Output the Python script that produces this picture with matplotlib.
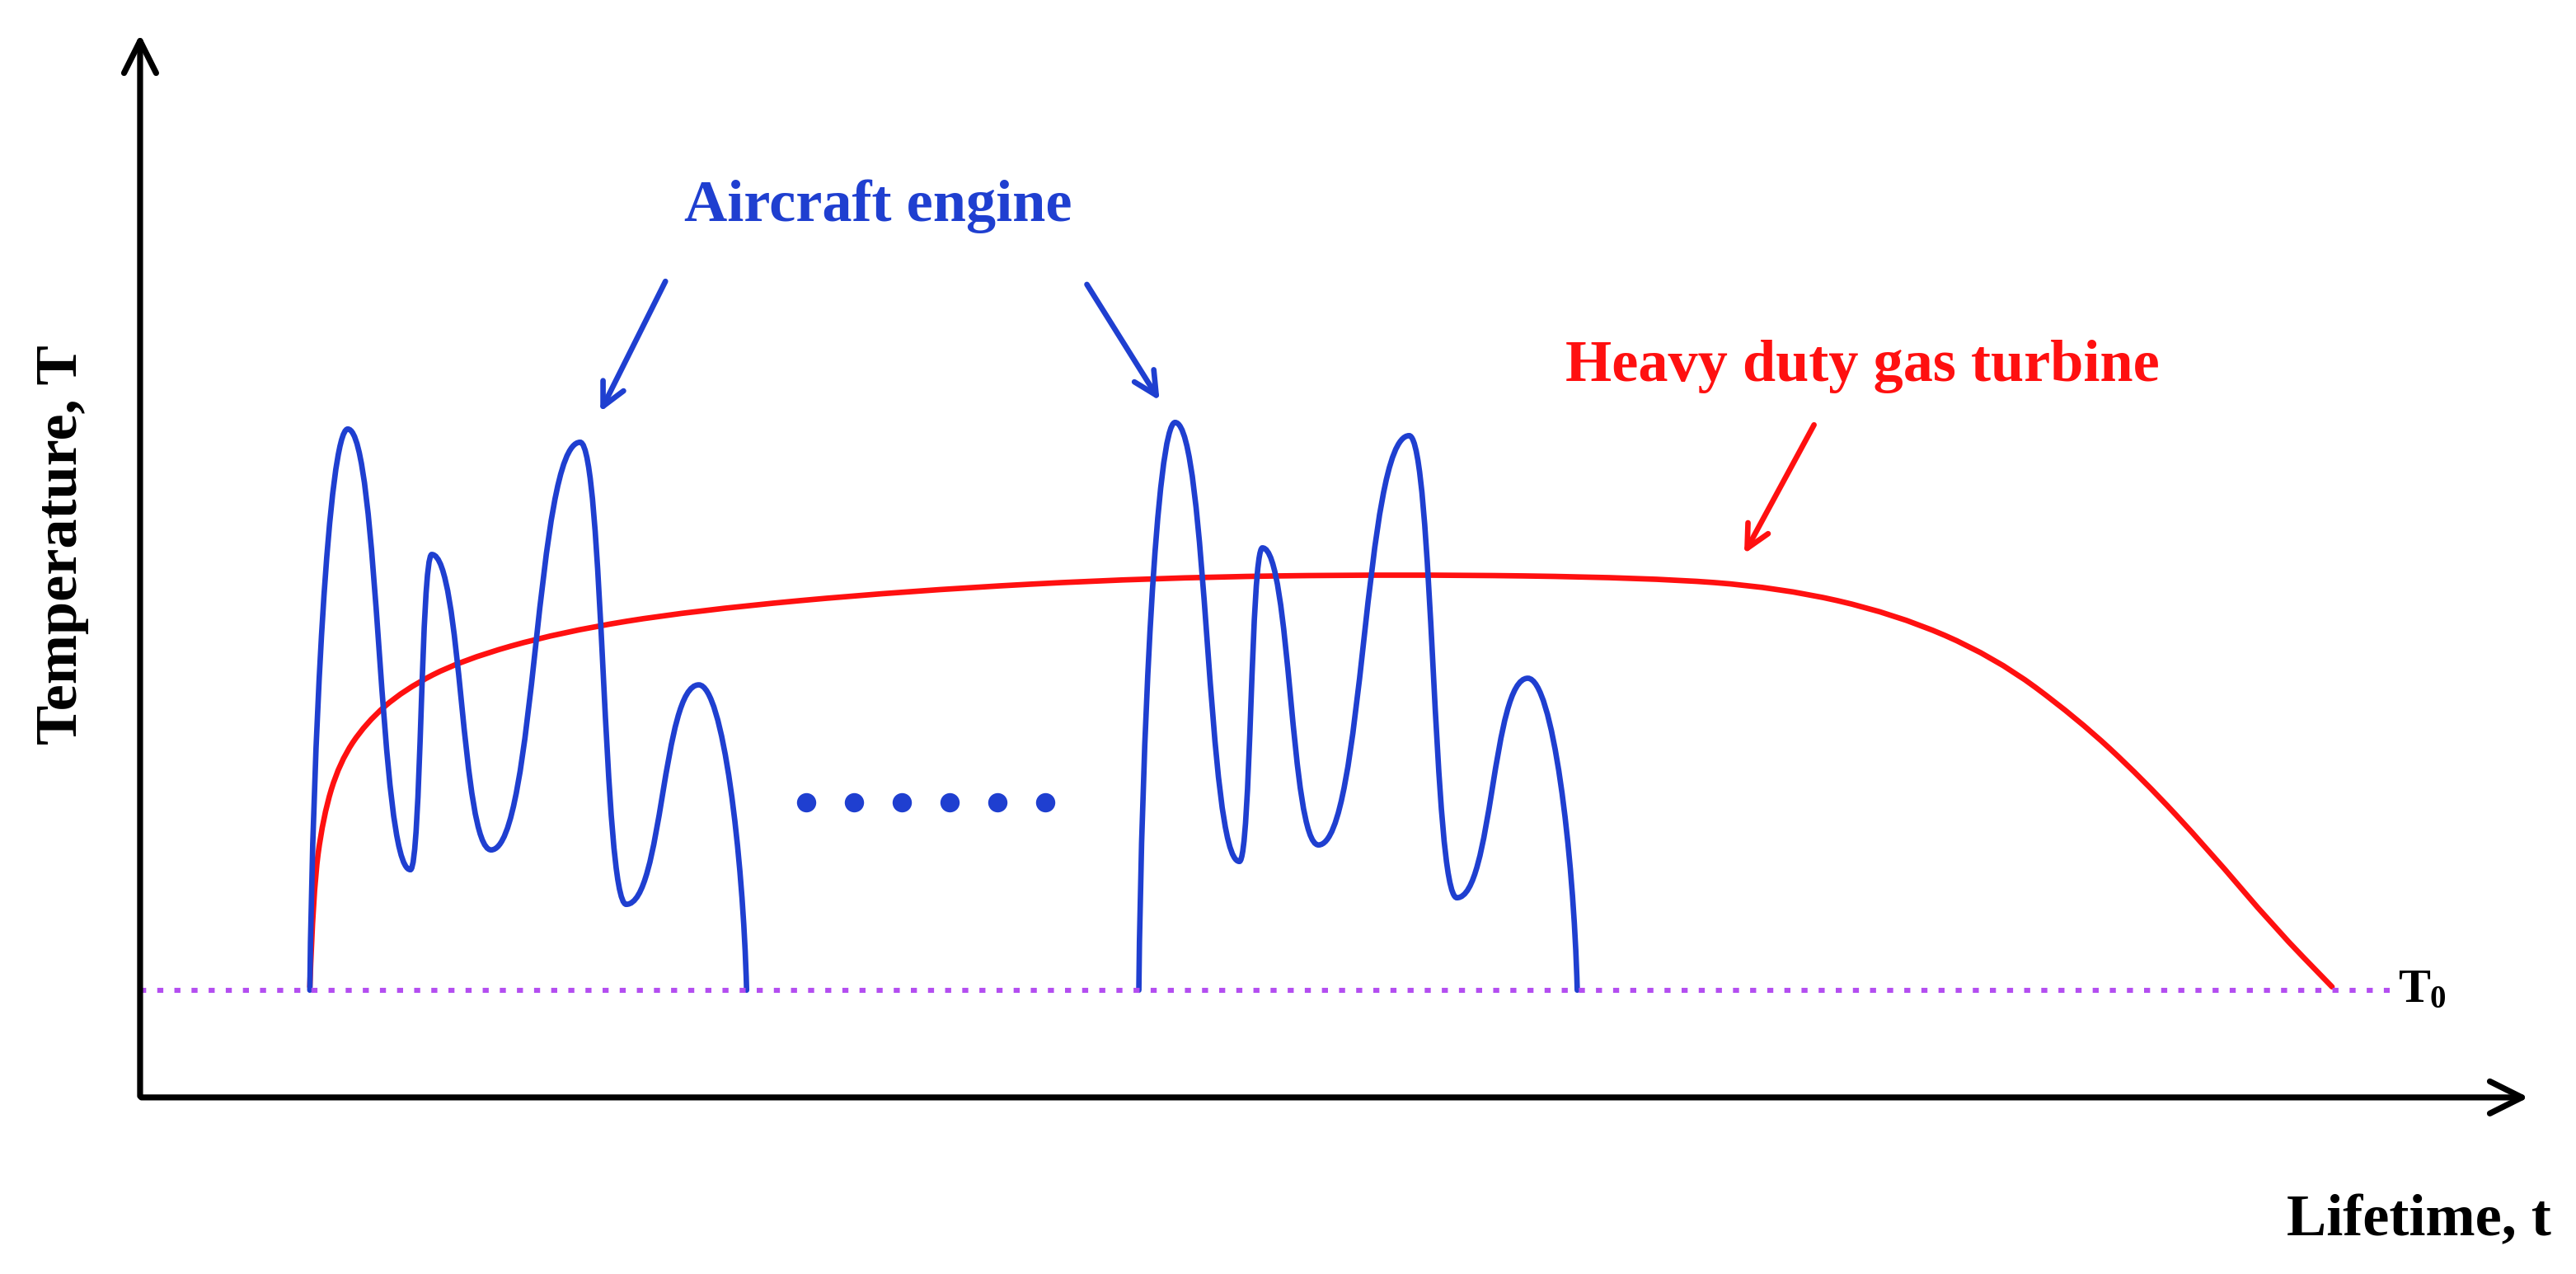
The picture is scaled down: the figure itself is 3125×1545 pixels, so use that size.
import matplotlib.pyplot as plt
from matplotlib.path import Path
from matplotlib.patches import PathPatch

plt.rcParams['font.family'] = ['Liberation Serif', 'DejaVu Serif']

# positions (image pixel units, y downwards)
base_y = 600
blue1 = [(188, 600), (211, 260), (249, 527), (262, 336), (298, 515),
         (352, 268), (380, 548), (424, 415), (453, 600)]
blue2 = [(691, 600), (713, 256), (752, 522), (766, 332), (800, 512),
         (855, 264), (884, 544), (927, 411), (957, 600)]
red_x = [188, 190, 196, 206, 222, 245, 280, 340, 420, 550, 700, 850, 1000,
         1080, 1150, 1210, 1260, 1300, 1340, 1380, 1415]
red_y = [598, 540, 495, 462, 438, 418, 400, 383, 370, 358, 350, 348, 350,
         356, 372, 398, 435, 472, 515, 562, 598]
dots_x = [489, 518, 547, 576, 605, 634]

BLUE = '#1f3fd0'
RED = '#ff1010'

fig = plt.figure(figsize=(15.625, 7.725), dpi=200)
ax = fig.add_axes([0, 0, 1, 1])
ax.set_xlim(0, 1563)
ax.set_ylim(772, 0)
ax.axis('off')


def wave(pts):
    # cubic bezier pieces, flat tangent at the extrema
    verts = [pts[0]]
    codes = [Path.MOVETO]
    for i in range(1, len(pts)):
        (x0, y0), (x1, y1) = pts[i - 1], pts[i]
        d = (x1 - x0) * 0.5
        if i == 1:
            c1 = (x0 + d * 0.15, y0 - (y0 - y1) * 0.45)
        else:
            c1 = (x0 + d, y0)
        if i == len(pts) - 1:
            c2 = (x1 - d * 0.15, y1 - (y1 - y0) * 0.45)
        else:
            c2 = (x1 - d, y1)
        verts += [c1, c2, (x1, y1)]
        codes += [Path.CURVE4] * 3
    return PathPatch(Path(verts, codes), fill=False, ec=BLUE, lw=2.4,
                     capstyle='round')


def smooth(xs, ys):
    # quadratic bezier through midpoints, given points act as controls
    pts = list(zip(xs, ys))
    verts = [pts[0]]
    codes = [Path.MOVETO]
    for i in range(1, len(pts) - 1):
        mx = (pts[i][0] + pts[i + 1][0]) / 2
        my = (pts[i][1] + pts[i + 1][1]) / 2
        verts += [pts[i], (mx, my)]
        codes += [Path.CURVE3] * 2
    verts.append(pts[-1])
    codes.append(Path.LINETO)
    return PathPatch(Path(verts, codes), fill=False, ec=RED, lw=2.4,
                     capstyle='round')


# T0 reference line
ax.plot([85, 1450], [base_y, base_y], ls=(0, (1.2, 2.2)), color='#b44ef0', lw=2.2)
ax.text(1455, base_y, 'T', fontsize=21, fontweight='bold', va='center')
ax.text(1474, base_y + 6, '0', fontsize=14, fontweight='bold', va='center')

ax.add_patch(smooth(red_x, red_y))
ax.add_patch(wave(blue1))
ax.add_patch(wave(blue2))
ax.scatter(dots_x, [486] * len(dots_x), s=55, color=BLUE, zorder=3)

# axes arrows
arr = dict(arrowstyle='->,head_length=1.4,head_width=0.7', color='black', lw=2.6)
ax.annotate('', xy=(85, 18), xytext=(85, 667), arrowprops=arr)
ax.annotate('', xy=(1537, 665), xytext=(83, 665), arrowprops=arr)

# annotations
barr = dict(arrowstyle='->,head_length=1.0,head_width=0.5', color=BLUE, lw=2.4)
ax.annotate('', xy=(363, 252), xytext=(405, 168), arrowprops=barr)
ax.annotate('', xy=(705, 245), xytext=(658, 170), arrowprops=barr)
rarr = dict(arrowstyle='->,head_length=1.0,head_width=0.5', color=RED, lw=2.4)
ax.annotate('', xy=(1057, 338), xytext=(1102, 255), arrowprops=rarr)

ax.text(533, 125, 'Aircraft engine', fontsize=26, fontweight='bold',
        color=BLUE, ha='center', va='center')
ax.text(1130, 222, 'Heavy duty gas turbine', fontsize=26, fontweight='bold',
        color=RED, ha='center', va='center')
ax.text(38, 330, 'Temperature, T', fontsize=26, fontweight='bold',
        rotation=90, ha='center', va='center')
ax.text(1548, 740, 'Lifetime, t', fontsize=26, fontweight='bold',
        ha='right', va='center')

fig.savefig('out.png', dpi=200)
